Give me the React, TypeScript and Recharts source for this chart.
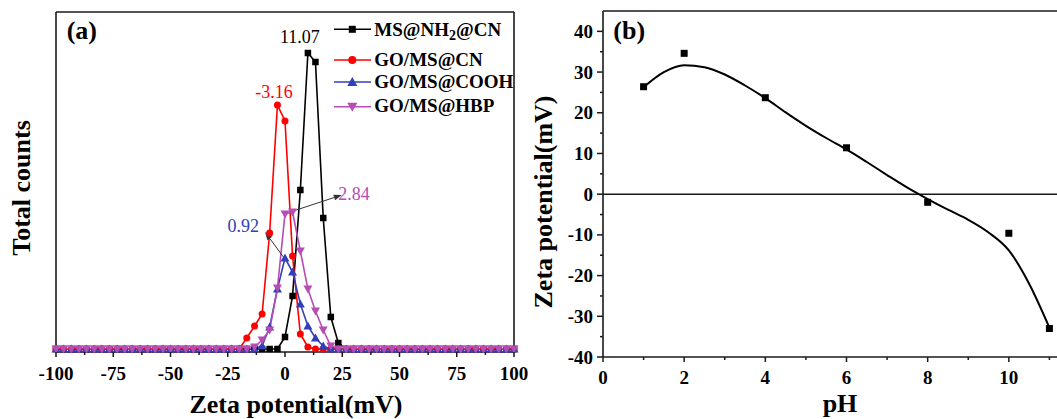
import React from "react";
import {
  LineChart,
  ComposedChart,
  Line,
  Scatter,
  XAxis,
  YAxis,
  ReferenceLine,
  ReferenceDot,
  Legend,
} from "recharts";

const FONT = "'Liberation Serif', 'Times New Roman', Times, serif";
const FRAME = "#1a1a1a";

// ---- panel (a): zeta potential distribution ----
const zetaGrid = [
  -100, -96.7, -93.3, -90, -86.7, -83.3, -80, -76.7, -73.3, -70,
  -66.7, -63.3, -60, -56.7, -53.3, -50, -46.7, -43.3, -40, -36.7,
  -33.3, -30, -26.7, -23.3, -20, -16.7, -13.3, -10, -6.7, -3.3,
  0, 3.3, 6.7, 10, 13.3, 16.7, 20, 23.3, 26.7, 30,
  33.3, 36.7, 40, 43.3, 46.7, 50, 53.3, 56.7, 60, 63.3,
  66.7, 70, 73.3, 76.7, 80, 83.3, 86.7, 90, 93.3, 96.7,
  100,
];

const msNh2Cn = [
  0, 0, 0, 0, 0, 0, 0, 0, 0, 0,
  0, 0, 0, 0, 0, 0, 0, 0, 0, 0,
  0, 0, 0, 0, 0, 0, 0, 0, 0, 0,
  12, 53, 159, 296, 287, 131, 32, 6, 0, 0,
  0, 0, 0, 0, 0, 0, 0, 0, 0, 0,
  0, 0, 0, 0, 0, 0, 0, 0, 0, 0,
  0,
];

const goMsCn = [
  0, 0, 0, 0, 0, 0, 0, 0, 0, 0,
  0, 0, 0, 0, 0, 0, 0, 0, 0, 0,
  0, 0, 0, 0, 0, 11, 23, 35, 116, 244,
  228, 93, 15, 2, 0, 0, 0, 0, 0, 0,
  0, 0, 0, 0, 0, 0, 0, 0, 0, 0,
  0, 0, 0, 0, 0, 0, 0, 0, 0, 0,
  0,
];

const goMsCooh = [
  0, 0, 0, 0, 0, 0, 0, 0, 0, 0,
  0, 0, 0, 0, 0, 0, 0, 0, 0, 0,
  0, 0, 0, 0, 0, 0, 0, 3, 22, 60,
  91, 77, 45, 23, 11, 3, 0, 0, 0, 0,
  0, 0, 0, 0, 0, 0, 0, 0, 0, 0,
  0, 0, 0, 0, 0, 0, 0, 0, 0, 0,
  0,
];

const goMsHbp = [
  0, 0, 0, 0, 0, 0, 0, 0, 0, 0,
  0, 0, 0, 0, 0, 0, 0, 0, 0, 0,
  0, 0, 0, 0, 0, 0, 2, 9, 19, 61,
  135, 137, 98, 60, 38, 19, 3, 0, 0, 0,
  0, 0, 0, 0, 0, 0, 0, 0, 0, 0,
  0, 0, 0, 0, 0, 0, 0, 0, 0, 0,
  0,
];

const zetaMajorTicks = [-100, -75, -50, -25, 0, 25, 50, 75, 100];
const zetaMinorTicks = [-87.5, -62.5, -37.5, -12.5, 12.5, 37.5, 62.5, 87.5];

const seriesNames = ["MS@NH2@CN", "GO/MS@CN", "GO/MS@COOH", "GO/MS@HBP"];
const seriesColors = ["#000000", "#ff0000", "#3040b8", "#b64cb4"];

// peak annotations (data coords)
const peakLabels = [
  { x: 6.5, y: 306, text: "11.07", color: "#000000" },
  { x: -4.8, y: 251, text: "-3.16", color: "#ff0000" },
  { x: 30.1, y: 149, text: "2.84", color: "#b64cb4" },
  { x: -18.2, y: 117, text: "0.92", color: "#3040b8" },
];
const peakArrows = [
  { from: { x: 3.6, y: 138 }, to: { x: 24.8, y: 154 } },
  { from: { x: -0.7, y: 92 }, to: { x: -8.7, y: 117 } },
];

// ---- panel (b): zeta potential vs pH ----
const phValues = [1, 2, 4, 6, 8, 10, 11];
const zetaValues = [26.4, 34.6, 23.7, 11.4, -2.0, -9.6, -33.0];

const fitPh = [1, 1.5, 2, 2.5, 3, 3.5, 4, 4.5, 5, 5.5, 6, 6.5, 7, 7.5, 8, 8.5, 9, 9.5, 10, 10.5, 11];
const fitZeta = [
  26.3, 30.0, 31.7, 31.2, 29.4, 26.7, 23.6, 20.1, 16.8, 13.8, 11.0,
  7.9, 4.7, 1.6, -1.2, -3.8, -6.3, -9.4, -13.8, -22.0, -32.8,
];

const phTicks = [0, 1, 2, 3, 4, 5, 6, 7, 8, 9, 10, 11, 12];
const phMajorTicks = [0, 2, 4, 6, 8, 10];
const potTicks = [-40, -35, -30, -25, -20, -15, -10, -5, 0, 5, 10, 15, 20, 25, 30, 35, 40];
const potMajorTicks = [-40, -30, -20, -10, 0, 10, 20, 30, 40];

const distRows = zetaGrid.map((x, i) => ({
  x,
  ms: msNh2Cn[i],
  cn: goMsCn[i],
  cooh: goMsCooh[i],
  hbp: goMsHbp[i],
}));
const pointRows = phValues.map((x, i) => ({ x, y: zetaValues[i] }));
const fitRows = fitPh.map((x, i) => ({ x, y: fitZeta[i] }));

// markers
const squareDot = (color: string, s: number) => (p: any) => (
  <rect key={`s${p.index}`} x={p.cx - s / 2} y={p.cy - s / 2} width={s} height={s} fill={color} />
);
const circleDot = (color: string) => (p: any) => (
  <circle key={`c${p.index}`} cx={p.cx} cy={p.cy} r={3.5} fill={color} />
);
const triUp = (color: string) => (p: any) => (
  <polygon
    key={`u${p.index}`}
    points={`${p.cx},${p.cy - 4.5} ${p.cx - 4.5},${p.cy + 3.5} ${p.cx + 4.5},${p.cy + 3.5}`}
    fill={color}
  />
);
const triDown = (color: string) => (p: any) => (
  <polygon
    key={`d${p.index}`}
    points={`${p.cx},${p.cy + 4.5} ${p.cx - 4.5},${p.cy - 3.5} ${p.cx + 4.5},${p.cy - 3.5}`}
    fill={color}
  />
);

const ZetaTick = (props: any) => {
  const { x, y, payload } = props;
  const major = zetaMajorTicks.includes(payload.value);
  return (
    <g>
      <line x1={x} x2={x} y1={y} y2={y + (major ? 5 : 3)} stroke={FRAME} strokeWidth={1.5} />
      {major && (
        <text x={x} y={y + 28} textAnchor="middle" fontSize={19} fontWeight="bold" fontFamily={FONT} fill="#000">
          {payload.value}
        </text>
      )}
    </g>
  );
};

const PhTick = (props: any) => {
  const { x, y, payload } = props;
  const major = phMajorTicks.includes(payload.value);
  return (
    <g>
      <line x1={x} x2={x} y1={y} y2={y + (major ? 5 : 3)} stroke={FRAME} strokeWidth={1.5} />
      {major && (
        <text x={x} y={y + 27} textAnchor="middle" fontSize={19} fontWeight="bold" fontFamily={FONT} fill="#000">
          {payload.value}
        </text>
      )}
    </g>
  );
};

const PotTick = (props: any) => {
  const { x, y, payload } = props;
  const major = potMajorTicks.includes(payload.value);
  return (
    <g>
      <line x1={x - (major ? 6 : 3)} x2={x} y1={y} y2={y} stroke={FRAME} strokeWidth={1.5} />
      {major && (
        <text x={x - 10} y={y + 6.5} textAnchor="end" fontSize={19} fontWeight="bold" fontFamily={FONT} fill="#000">
          {payload.value}
        </text>
      )}
    </g>
  );
};

const arrowShape = (color: string) => (p: any) => {
  const { x1, y1, x2, y2 } = p;
  const ang = Math.atan2(y2 - y1, x2 - x1);
  const len = 8;
  const w = 3;
  const bx = x2 - len * Math.cos(ang);
  const by = y2 - len * Math.sin(ang);
  const nx = -Math.sin(ang) * w;
  const ny = Math.cos(ang) * w;
  return (
    <g>
      <line x1={x1} y1={y1} x2={bx} y2={by} stroke={color} strokeWidth={1} />
      <polygon points={`${x2},${y2} ${bx + nx},${by + ny} ${bx - nx},${by - ny}`} fill={color} />
    </g>
  );
};

const DistLegend = () => {
  const rows = [
    { lineY: 29.3, textY: 36, marker: "square" },
    { lineY: 60, textY: 66, marker: "circle" },
    { lineY: 82, textY: 88.3, marker: "up" },
    { lineY: 106.7, textY: 112.3, marker: "down" },
  ];
  return (
    <svg width={200} height={125} style={{ display: "block" }}>
      {rows.map((r, i) => {
        const c = seriesColors[i];
        const mx = 22.3;
        const my = r.lineY;
        return (
          <g key={i}>
            <line x1={4} x2={41} y1={my} y2={my} stroke={c} strokeWidth={1.6} />
            {r.marker === "square" && <rect x={mx - 3.5} y={my - 3.5} width={7} height={7} fill={c} />}
            {r.marker === "circle" && <circle cx={mx} cy={my} r={4} fill={c} />}
            {r.marker === "up" && (
              <polygon points={`${mx},${my - 5} ${mx - 5},${my + 4} ${mx + 5},${my + 4}`} fill={c} />
            )}
            {r.marker === "down" && (
              <polygon points={`${mx},${my + 5} ${mx - 5},${my - 4} ${mx + 5},${my - 4}`} fill={c} />
            )}
            <text x={44.3} y={r.textY} fontSize={19} fontWeight="bold" fontFamily={FONT} fill="#000">
              {i === 0 ? (
                <>
                  MS@NH<tspan dy={4} fontSize={14}>2</tspan>
                  <tspan dy={-4}>@CN</tspan>
                </>
              ) : (
                seriesNames[i]
              )}
            </text>
          </g>
        );
      })}
    </svg>
  );
};

function DistributionPanel() {
  return (
    <LineChart width={530} height={419} data={distRows} margin={{ top: 12, right: 16, left: 56, bottom: 0 }}>
      <XAxis
        type="number"
        dataKey="x"
        domain={[-100, 100]}
        ticks={[...zetaMajorTicks, ...zetaMinorTicks].sort((a, b) => a - b)}
        interval={0}
        tickLine={false}
        tickSize={0}
        tickMargin={0}
        height={67}
        axisLine={{ stroke: FRAME, strokeWidth: 1.6 }}
        tick={ZetaTick}
        label={() => (
          <g fontFamily={FONT} fontWeight="bold" fill="#000">
            <text x={296} y={413} textAnchor="middle" fontSize={26}>
              Zeta potential(mV)
            </text>
            <text x={30} y={188} textAnchor="middle" fontSize={26} transform="rotate(-90, 30, 188)">
              Total counts
            </text>
            <text x={66.7} y={39} fontSize={26}>
              (a)
            </text>
          </g>
        )}
      />
      <YAxis type="number" domain={[-3, 337]} hide />
      <ReferenceLine y={337} stroke={FRAME} strokeWidth={1.6} />
      <ReferenceLine x={-100} stroke={FRAME} strokeWidth={1.6} />
      <ReferenceLine x={100} stroke={FRAME} strokeWidth={1.6} />
      <Legend
        layout="vertical"
        align="center"
        verticalAlign="middle"
        content={DistLegend}
        wrapperStyle={{ position: "absolute", left: 330, top: 0, width: 200, height: 125 }}
      />
      <Line dataKey="ms" stroke={seriesColors[0]} strokeWidth={1.6} dot={squareDot(seriesColors[0], 6.5)} activeDot={false} isAnimationActive={false} />
      <Line dataKey="cn" stroke={seriesColors[1]} strokeWidth={1.6} dot={circleDot(seriesColors[1])} activeDot={false} isAnimationActive={false} />
      <Line dataKey="cooh" stroke={seriesColors[2]} strokeWidth={1.6} dot={triUp(seriesColors[2])} activeDot={false} isAnimationActive={false} />
      <Line dataKey="hbp" stroke={seriesColors[3]} strokeWidth={1.6} dot={triDown(seriesColors[3])} activeDot={false} isAnimationActive={false} />
      {peakArrows.map((a, i) => (
        <ReferenceLine key={`a${i}`} segment={[a.from, a.to]} shape={arrowShape("#333")} />
      ))}
      {peakLabels.map((l, i) => (
        <ReferenceDot
          key={`l${i}`}
          x={l.x}
          y={l.y}
          r={0}
          shape={(p: any) => (
            <text x={p.cx} y={p.cy} textAnchor="middle" fontSize={18} fontFamily={FONT} fill={l.color}>
              {l.text}
            </text>
          )}
        />
      ))}
    </LineChart>
  );
}

function PhPanel() {
  return (
    <ComposedChart width={570} height={419} margin={{ top: 11, right: 10, left: 0, bottom: 0 }}>
      <XAxis
        type="number"
        dataKey="x"
        domain={[0, 12]}
        ticks={phTicks}
        interval={0}
        tickLine={false}
        tickSize={0}
        tickMargin={0}
        height={62}
        axisLine={{ stroke: FRAME, strokeWidth: 1.6 }}
        tick={PhTick}
        label={() => (
          <g fontFamily={FONT} fontWeight="bold" fill="#000">
            <text x={310} y={412} textAnchor="middle" fontSize={26}>
              pH
            </text>
            <text x={22} y={202} textAnchor="middle" fontSize={26} transform="rotate(-90, 22, 202)">
              Zeta potential(mV)
            </text>
            <text x={83.3} y={39} fontSize={26}>
              (b)
            </text>
          </g>
        )}
      />
      <YAxis
        type="number"
        dataKey="y"
        domain={[-40, 45]}
        ticks={potTicks}
        interval={0}
        tickLine={false}
        tickSize={0}
        tickMargin={0}
        width={73}
        axisLine={{ stroke: FRAME, strokeWidth: 1.6 }}
        tick={PotTick}
      />
      <ReferenceLine y={45} stroke={FRAME} strokeWidth={1.6} />
      <ReferenceLine x={12} stroke={FRAME} strokeWidth={1.6} />
      <ReferenceLine y={0} stroke={FRAME} strokeWidth={1.5} />
      <Line
        data={fitRows}
        dataKey="y"
        type="monotone"
        stroke="#000"
        strokeWidth={2}
        dot={false}
        activeDot={false}
        isAnimationActive={false}
      />
      <Scatter
        data={pointRows}
        dataKey="y"
        isAnimationActive={false}
        shape={(p: any) => <rect x={p.cx - 3.5} y={p.cy - 3.5} width={7} height={7} fill="#000" />}
      />
    </ComposedChart>
  );
}

export default function App() {
  return (
    <div
      style={{
        position: "fixed",
        left: 0,
        top: 0,
        width: 1057,
        height: 419,
        overflow: "hidden",
        background: "#fff",
      }}
    >
      <div style={{ position: "absolute", left: 0, top: 0 }}>
        <DistributionPanel />
      </div>
      <div style={{ position: "absolute", left: 530, top: 0 }}>
        <PhPanel />
      </div>
    </div>
  );
}
